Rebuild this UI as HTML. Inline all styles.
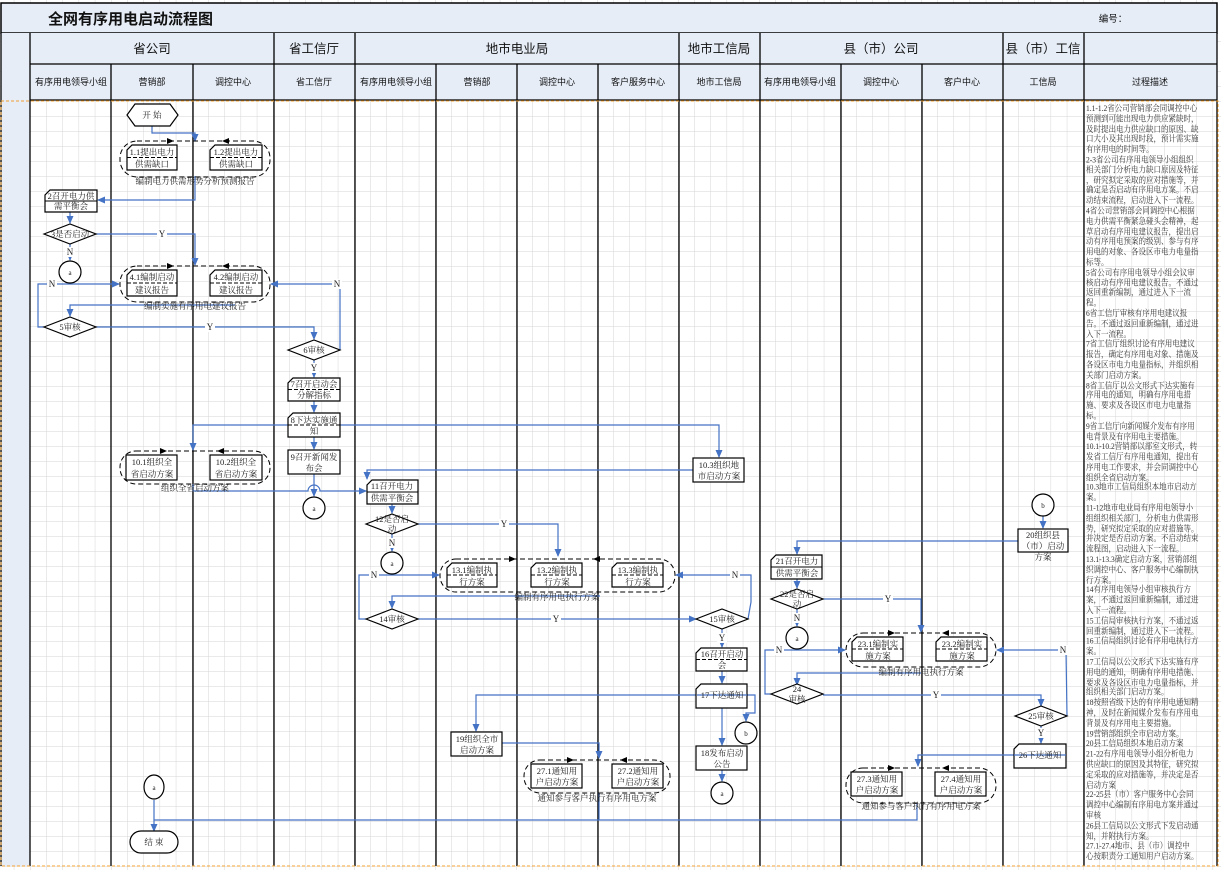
<!DOCTYPE html>
<html><head><meta charset="utf-8"><style>
body{margin:0;background:#fff;}
#wrap{position:relative;width:1221px;height:870px;overflow:hidden;}
svg{position:absolute;left:0;top:0;}
.t{font-family:"Liberation Serif","Noto Serif CJK SC",serif;font-size:8.5px;fill:#222;text-anchor:middle;}
.h{font-family:"Liberation Sans","Noto Sans CJK SC",sans-serif;fill:#111;text-anchor:middle;}
#desc{position:absolute;left:1086px;top:104px;width:132px;font-family:"Liberation Serif","Noto Serif CJK SC",serif;font-size:7.5px;line-height:8.8px;color:#333;white-space:pre;transform:scaleY(1.165);transform-origin:0 0;}
</style></head><body><div id="wrap">
<svg width="1221" height="870" viewBox="0 0 1221 870">
<defs>
<pattern id="g" x="30" y="101" width="16.2" height="15" patternUnits="userSpaceOnUse"><path d="M0 0H16.2M0 0V15" stroke="#d6d6d6" stroke-width="1" fill="none"/></pattern>
<marker id="ar" markerWidth="8" markerHeight="8" refX="7" refY="4" orient="auto" markerUnits="userSpaceOnUse"><path d="M0 0.5L8 4L0 7.5Z" fill="#4472c4"/></marker>
</defs>
<rect width="1221" height="870" fill="url(#g)"/>
<rect x="1" y="3" width="1216" height="30" fill="#e6edf7" stroke="#000" stroke-width="1.5"/>
<text x="48" y="24" style="font-family:'Liberation Sans','Noto Sans CJK SC',sans-serif;font-size:15px;font-weight:bold;" fill="#111">全网有序用电启动流程图</text>
<text x="1113" y="22" class="h" style="font-size:9.5px">编号：</text>
<rect x="1" y="33" width="29" height="833" fill="#e6edf7"/>
<rect x="30" y="33" width="1187" height="67" fill="#e6edf7"/>
<g stroke="#000" stroke-width="1.3" fill="none">
<path d="M1 33V866M30 33V866M1217 33V866M30 64H1217M30 100H1217"/>
<path d="M274 33V866M355 33V866M679 33V866M760 33V866M1003 33V866M1084 33V866"/>
<path d="M111 64V866M193 64V866M436 64V866M517 64V866M598 64V866M841 64V866M922 64V866"/>
</g>
<rect x="1" y="101" width="1217" height="765" fill="none" stroke="#f0a030" stroke-width="1" stroke-dasharray="3,2"/>
<g class="h" style="font-size:12.5px">
<text x="152" y="53">省公司</text><text x="314" y="53">省工信厅</text><text x="517" y="53">地市电业局</text><text x="719" y="53">地市工信局</text><text x="881" y="53">县（市）公司</text><text x="1043" y="53">县（市）工信</text>
</g>
<g class="h" style="font-size:9px">
<text x="71" y="85">有序用电领导小组</text><text x="152" y="85">营销部</text><text x="233" y="85">调控中心</text><text x="314" y="85">省工信厅</text><text x="396" y="85">有序用电领导小组</text><text x="477" y="85">营销部</text><text x="557" y="85">调控中心</text><text x="638" y="85">客户服务中心</text><text x="719" y="85">地市工信局</text><text x="800" y="85">有序用电领导小组</text><text x="881" y="85">调控中心</text><text x="962" y="85">客户中心</text><text x="1043" y="85">工信局</text><text x="1150" y="85">过程描述</text>
</g>
<g stroke="#4472c4" stroke-width="1.2" fill="none">
<path d="M152 126V133H195V141" marker-end="url(#ar)"/>
<path d="M195 176V200H98" marker-end="url(#ar)"/>
<path d="M70 212V223" marker-end="url(#ar)"/>
<path d="M96 234H195V265" marker-end="url(#ar)"/>
<path d="M70 244V260" marker-end="url(#ar)"/>
<path d="M44 327H38V284H119" marker-end="url(#ar)"/>
<path d="M340 350V284H271" marker-end="url(#ar)"/>
<path d="M235 305H70V316" marker-end="url(#ar)"/>
<path d="M96 327H314V339" marker-end="url(#ar)"/>
<path d="M314 360V377" marker-end="url(#ar)"/>
<path d="M314 401V412" marker-end="url(#ar)"/>
<path d="M314 437V449" marker-end="url(#ar)"/>
<path d="M288 425H193V450" marker-end="url(#ar)"/>
<path d="M340 425H719V457" marker-end="url(#ar)"/>
<path d="M314 474V496" marker-end="url(#ar)"/>
<path d="M193 484V491H308A6 6 0 0 1 320 491H366" marker-end="url(#ar)"/>
<path d="M693 470H367V479" marker-end="url(#ar)"/>
<path d="M392 504V513" marker-end="url(#ar)"/>
<path d="M418 524H558V556" marker-end="url(#ar)"/>
<path d="M392 534V551" marker-end="url(#ar)"/>
<path d="M366 619H359V575H439" marker-end="url(#ar)"/>
<path d="M600 596H392V608" marker-end="url(#ar)"/>
<path d="M418 619H696" marker-end="url(#ar)"/>
<path d="M748 619L751 602V575H676" marker-end="url(#ar)"/>
<path d="M722 629V647" marker-end="url(#ar)"/>
<path d="M722 671V683" marker-end="url(#ar)"/>
<path d="M747 695H755V713H746V721" marker-end="url(#ar)"/>
<path d="M697 695H476V731" marker-end="url(#ar)"/>
<path d="M722 708V745" marker-end="url(#ar)"/>
<path d="M722 770V781" marker-end="url(#ar)"/>
<path d="M502 743H599V758" marker-end="url(#ar)"/>
<path d="M599 793V820M917 803V820H154"/>
<path d="M154 800V831" marker-end="url(#ar)"/>
<path d="M1043 516V528" marker-end="url(#ar)"/>
<path d="M1018 541H797V554" marker-end="url(#ar)"/>
<path d="M797 579V588" marker-end="url(#ar)"/>
<path d="M823 599H921V632" marker-end="url(#ar)"/>
<path d="M797 609V626" marker-end="url(#ar)"/>
<path d="M771 694H765V650H845" marker-end="url(#ar)"/>
<path d="M921 673H797V685" marker-end="url(#ar)"/>
<path d="M823 695H1041V706" marker-end="url(#ar)"/>
<path d="M1067 716L1066 650H997" marker-end="url(#ar)"/>
<path d="M1041 726V743" marker-end="url(#ar)"/>
<path d="M1016 755H918V766" marker-end="url(#ar)"/>
</g>
<g class="t" style="font-size:9px">
<g fill="#fff"><rect x="157" y="229" width="10" height="10"/><rect x="65" y="247" width="10" height="10"/><rect x="47" y="279" width="10" height="10"/><rect x="332" y="279" width="10" height="10"/><rect x="205" y="322" width="10" height="10"/><rect x="309" y="363" width="10" height="10"/><rect x="499" y="519" width="10" height="10"/><rect x="387" y="538" width="10" height="10"/><rect x="369" y="570" width="10" height="10"/><rect x="551" y="614" width="10" height="10"/><rect x="730" y="570" width="10" height="10"/><rect x="717" y="633" width="10" height="10"/><rect x="883" y="594" width="10" height="10"/><rect x="792" y="613" width="10" height="10"/><rect x="774" y="645" width="10" height="10"/><rect x="931" y="690" width="10" height="10"/><rect x="1058" y="645" width="10" height="10"/><rect x="1036" y="728" width="10" height="10"/></g>
<text x="162" y="237">Y</text><text x="70" y="255">N</text><text x="52" y="287">N</text><text x="337" y="287">N</text><text x="210" y="330">Y</text><text x="314" y="371">Y</text><text x="504" y="527">Y</text><text x="392" y="546">N</text><text x="374" y="578">N</text><text x="556" y="622">Y</text><text x="735" y="578">N</text><text x="722" y="641">Y</text><text x="888" y="602">Y</text><text x="797" y="621">N</text><text x="779" y="653">N</text><text x="936" y="698">Y</text><text x="1063" y="653">N</text><text x="1041" y="736">Y</text>
</g>
<g fill="none" stroke="#000" stroke-width="1" stroke-dasharray="5,3">
<rect x="120" y="141" width="150" height="36" rx="17"/>
<rect x="120" y="266" width="150" height="36" rx="17"/>
<rect x="120" y="451" width="150" height="33" rx="16"/>
<rect x="440" y="559" width="235" height="33" rx="16"/>
<rect x="524" y="760" width="146" height="33" rx="16"/>
<rect x="846" y="633" width="150" height="34" rx="17"/>
<rect x="846" y="768" width="150" height="35" rx="17"/>
</g>
<g fill="#000">
<path d="M167 138L174 141L167 144Z"/><path d="M229 138L222 141L229 144Z"/>
<path d="M167 263L174 266L167 269Z"/><path d="M229 263L222 266L229 269Z"/>
<path d="M160 448L167 451L160 454Z"/><path d="M224 448L217 451L224 454Z"/>
<path d="M509 556L516 559L509 562Z"/><path d="M600 556L593 559L600 562Z"/>
<path d="M567 757L574 760L567 763Z"/><path d="M627 757L620 760L627 763Z"/>
<path d="M888 630L895 633L888 636Z"/><path d="M949 630L942 633L949 636Z"/>
<path d="M888 765L895 768L888 771Z"/><path d="M949 765L942 768L949 771Z"/>
</g>
<g class="t">
<text x="195" y="184">编制电力供需形势分析预测报告</text>
<text x="195" y="309">编制实施有序用电建议报告</text>
<text x="195" y="491">组织全省启动方案</text>
<text x="557" y="600">编制有序用电执行方案</text>
<text x="597" y="801">通知参与客户执行有序用电方案</text>
<text x="921" y="675">编制有序用电执行方案</text>
<text x="921" y="809">通知参与客户执行有序用电方案</text>
</g>
<g fill="#fff" stroke="#000" stroke-width="1.2">
<path d="M132 145H177V170H127V150Z"/><path d="M215 145H262V170H210V150Z"/>
<path d="M50 190H97V212H45V195Z"/>
<path d="M132 270H177V296H127V275Z"/><path d="M215 270H262V296H210V275Z"/>
<path d="M293 378H340V401H288V383Z"/><path d="M293 413H340V437H288V418Z"/>
<rect x="288" y="450" width="52" height="24"/>
<rect x="126" y="455" width="51" height="25"/><rect x="210" y="455" width="52" height="25"/>
<rect x="693" y="458" width="51" height="24"/>
<path d="M372 480H418V504H367V485Z"/>
<path d="M452 563H497V587H447V568Z"/><path d="M536 563H582V587H531V568Z"/><path d="M617 563H663V587H612V568Z"/>
<path d="M701 648H747V671H696V653Z"/><path d="M701 684H747V708H696V689Z"/>
<rect x="696" y="746" width="51" height="24"/>
<rect x="451" y="732" width="51" height="24"/>
<rect x="531" y="764" width="51" height="24"/><rect x="612" y="764" width="51" height="24"/>
<rect x="1018" y="529" width="50" height="23"/>
<path d="M776 555H822V579H771V560Z"/>
<path d="M857 637H903V661H852V642Z"/><path d="M941 637H987V661H936V642Z"/>
<path d="M1019 744H1066V768H1014V749Z"/>
<rect x="851" y="772" width="51" height="24"/><rect x="935" y="772" width="51" height="24"/>
</g>
<g stroke="#000" stroke-width="1" stroke-dasharray="4,2">
<path d="M127 157.5H177M210 157.5H262M127 283H177M210 283H262M288 389.5H340M288 425H340M447 575H497M531 575H582M612 575H663M696 659.5H747M852 649H903M936 649H987"/>
</g>
<g stroke="#000" stroke-width="1"><path d="M45 201H97M367 492H418M771 567H822"/></g>
<g stroke="#4472c4" stroke-width="1.2"><path d="M697 695H747M1014 755H1066"/></g>
<g fill="#fff" stroke="#000" stroke-width="1.2">
<path d="M44 234L70 224L96 234L70 244Z"/><path d="M44 327L70 317L96 327L70 337Z"/>
<path d="M288 350L314 340L340 350L314 360Z"/><path d="M366 524L392 514L418 524L392 534Z"/>
<path d="M366 619L392 609L418 619L392 629Z"/><path d="M696 619L722 609L748 619L722 629Z"/>
<path d="M771 599L797 589L823 599L797 609Z"/><path d="M771 694L797 684L823 694L797 704Z"/>
<path d="M1015 716L1041 706L1067 716L1041 726Z"/>
<circle cx="70" cy="272" r="11"/><circle cx="314" cy="508" r="11"/><circle cx="392" cy="563" r="11"/><circle cx="797" cy="638" r="11"/><circle cx="722" cy="793" r="11"/><circle cx="746" cy="733" r="11"/><circle cx="1043" cy="505" r="11"/>
<ellipse cx="154" cy="787" rx="10" ry="12"/>
<path d="M127 115L135 104H170L178 115L170 126H135Z"/>
<rect x="130" y="831" width="48" height="22" rx="11"/>
</g>
<g class="t">
<text x="152" y="118">开 始</text><text x="154" y="845">结 束</text>
<text x="70" y="275" style="font-size:7px">a</text><text x="314" y="511" style="font-size:7px">a</text><text x="392" y="566" style="font-size:7px">a</text><text x="797" y="641" style="font-size:7px">a</text><text x="722" y="796" style="font-size:7px">a</text><text x="154" y="790" style="font-size:7px">a</text><text x="746" y="736" style="font-size:7px">b</text><text x="1043" y="508" style="font-size:7px">b</text>
<text x="70" y="237">3是否启动</text><text x="70" y="330">5审核</text><text x="314" y="353">6审核</text>
<text x="392" y="522">12是否启</text><text x="392" y="532">动</text>
<text x="392" y="622">14审核</text><text x="722" y="622">15审核</text>
<text x="797" y="597">22是否启</text><text x="797" y="607">动</text>
<text x="797" y="692">24</text><text x="797" y="702">审核</text>
<text x="1041" y="719">25审核</text>
<text x="152" y="155">1.1提出电力</text><text x="152" y="167">供需缺口</text>
<text x="236" y="155">1.2提出电力</text><text x="236" y="167">供需缺口</text>
<text x="71" y="199">2召开电力供</text><text x="71" y="209">需平衡会</text>
<text x="152" y="280">4.1编制启动</text><text x="152" y="293">建议报告</text>
<text x="236" y="280">4.2编制启动</text><text x="236" y="293">建议报告</text>
<text x="314" y="387">7召开启动会</text><text x="314" y="398">分解指标</text>
<text x="314" y="423">8下达实施通</text><text x="314" y="434">知</text>
<text x="314" y="460">9召开新闻发</text><text x="314" y="471">布会</text>
<text x="152" y="465">10.1组织全</text><text x="152" y="477">省启动方案</text>
<text x="236" y="465">10.2组织全</text><text x="236" y="477">省启动方案</text>
<text x="719" y="468">10.3组织地</text><text x="719" y="479">市启动方案</text>
<text x="392" y="489">11召开电力</text><text x="392" y="501">供需平衡会</text>
<text x="472" y="573">13.1编制执</text><text x="472" y="585">行方案</text>
<text x="557" y="573">13.2编制执</text><text x="557" y="585">行方案</text>
<text x="638" y="573">13.3编制执</text><text x="638" y="585">行方案</text>
<text x="722" y="657">16召开启动</text><text x="722" y="668">会</text>
<text x="722" y="698">17下达通知</text>
<text x="722" y="756">18发布启动</text><text x="722" y="767">公告</text>
<text x="477" y="742">19组织全市</text><text x="477" y="753">启动方案</text>
<text x="557" y="774">27.1通知用</text><text x="557" y="785">户启动方案</text>
<text x="638" y="774">27.2通知用</text><text x="638" y="785">户启动方案</text>
<text x="1043" y="538">20组织县</text><text x="1043" y="549">（市）启动</text><text x="1043" y="560">方案</text>
<text x="797" y="564">21召开电力</text><text x="797" y="576">供需平衡会</text>
<text x="878" y="647">23.1编制实</text><text x="878" y="659">施方案</text>
<text x="962" y="647">23.2编制实</text><text x="962" y="659">施方案</text>
<text x="1040" y="758">26下达通知</text>
<text x="877" y="782">27.3通知用</text><text x="877" y="793">户启动方案</text>
<text x="961" y="782">27.4通知用</text><text x="961" y="793">户启动方案</text>
</g>
</svg>
<div id="desc">1.1-1.2省公司营销部会同调控中心
预测到可能出现电力供应紧缺时，
及时提出电力供应缺口的原因、缺
口大小及其出现时段，预计需实施
有序用电的时间等。
2-3省公司有序用电领导小组组织
相关部门分析电力缺口原因及特征
，研究拟定采取的应对措施等，并
确定是否启动有序用电方案。不启
动结束流程，启动进入下一流程。
4省公司营销部会同调控中心根据
电力供需平衡紧急碰头会精神，起
草启动有序用电建议报告，提出启
动有序用电预案的级别、参与有序
用电的对象、各设区市电力电量指
标等。
5省公司有序用电领导小组会议审
核启动有序用电建议报告。不通过
返回重新编制，通过进入下一流
程。
6省工信厅审核有序用电建议报
告。不通过返回重新编制，通过进
入下一流程。
7省工信厅组织讨论有序用电建议
报告，确定有序用电对象、措施及
各设区市电力电量指标，并组织相
关部门启动方案。
8省工信厅以公文形式下达实施有
序用电的通知，明确有序用电措
施、要求及各设区市电力电量指
标。
9省工信厅向新闻媒介发布有序用
电背景及有序用电主要措施。
10.1-10.2营销部以部室文形式，转
发省工信厅有序用电通知，提出有
序用电工作要求，并会同调控中心
组织全省启动方案。
10.3地市工信局组织本地市启动方
案。
11-12地市电业局有序用电领导小
组组织相关部门，分析电力供需形
势，研究拟定采取的应对措施等。
并决定是否启动方案。不启动结束
流程图，启动进入下一流程。
13.1-13.3确定启动方案，营销部组
织调控中心、客户服务中心编制执
行方案。
14有序用电领导小组审核执行方
案，不通过返回重新编制，通过进
入下一流程。
15工信局审核执行方案，不通过返
回重新编制，通过进入下一流程。
16工信局组织讨论有序用电执行方
案。
17工信局以公文形式下达实施有序
用电的通知，明确有序用电措施、
要求及各设区市电力电量指标，并
组织相关部门启动方案。
18按照省级下达的有序用电通知精
神，及时在新闻媒介发布有序用电
背景及有序用电主要措施。
19营销部组织全市启动方案。
20县工信局组织本地启动方案
21-22有序用电领导小组分析电力
供应缺口的原因及其特征，研究拟
定采取的应对措施等，并决定是否
启动方案
22-25县（市）客户服务中心会同
调控中心编制有序用电方案并通过
审核
26县工信局以公文形式下发启动通
知，并附执行方案。
27.1-27.4地市、县（市）调控中
心按职责分工通知用户启动方案。</div>
</div></body></html>
